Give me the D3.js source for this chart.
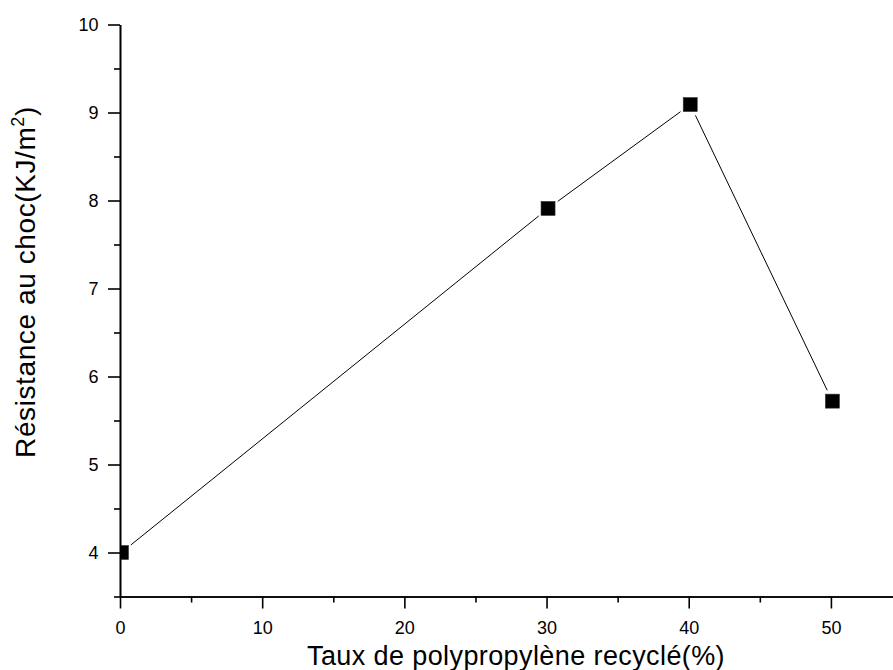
<!DOCTYPE html>
<html>
<head>
<meta charset="utf-8">
<script src="https://cdn.jsdelivr.net/npm/d3@7"></script>
<style>
  html, body { margin: 0; padding: 0; background: #fff; }
  svg { display: block; font-family: "Liberation Sans", Arial, sans-serif; }
  .axis path, .axis line { stroke: #000; stroke-width: 1.6; }
  .axis text { fill: #000; font-size: 18px; font-family: "Liberation Sans", Arial, sans-serif; }
</style>
</head>
<body>
<svg id="chart" width="893" height="670"></svg>
<script>
// Impact resistance vs. recycled polypropylene content
const recycledPct = [0, 30, 40, 50];
const impactStrength = [4.0, 7.91, 9.09, 5.72];

const xMajorTicks = [0, 10, 20, 30, 40, 50];
const xMinorTicks = [5, 15, 25, 35, 45, 55];
const yMajorTicks = [4, 5, 6, 7, 8, 9, 10];
const yMinorTicks = [3.5, 4.5, 5.5, 6.5, 7.5, 8.5, 9.5];

const xTitle = "Taux de polypropylène recyclé(%)";
const yTitle = "Résistance au choc(KJ/m";

const svg = d3.select("#chart");
const W = 893, H = 670;

const x = d3.scaleLinear().domain([0, 55]).range([120, 902]);
const y = d3.scaleLinear().domain([3.5, 10]).range([596.5, 24.5]);

// clip data to the plot frame
svg.append("defs").append("clipPath").attr("id", "plotClip")
  .append("rect")
  .attr("x", x(0) + 1).attr("y", y(10))
  .attr("width", W - x(0)).attr("height", y(3.5) - y(10));

// x axis
const xAxisY = y(3.5);
svg.append("g").attr("class", "axis")
  .attr("transform", `translate(0,${xAxisY})`)
  .call(d3.axisBottom(x).tickValues(xMinorTicks).tickSize(6).tickFormat("").tickSizeOuter(0));
svg.append("g").attr("class", "axis")
  .attr("transform", `translate(0,${xAxisY})`)
  .call(d3.axisBottom(x).tickValues(xMajorTicks).tickSize(12).tickPadding(12.5)
    .tickFormat(d3.format("d")).tickSizeOuter(0));

// y axis
const yAxisX = x(0);
svg.append("g").attr("class", "axis")
  .attr("transform", `translate(${yAxisX},0)`)
  .call(d3.axisLeft(y).tickValues(yMinorTicks).tickSize(6).tickFormat("").tickSizeOuter(0));
svg.append("g").attr("class", "axis")
  .attr("transform", `translate(${yAxisX},0)`)
  .call(d3.axisLeft(y).tickValues(yMajorTicks).tickSize(12).tickPadding(9.5)
    .tickFormat(d3.format("d")).tickSizeOuter(0));

// data line, with gaps around each marker
const pts = recycledPct.map((v, i) => [x(v) + 1.5, y(impactStrength[i])]);
const gap = 12;
const plot = svg.append("g").attr("clip-path", "url(#plotClip)");
for (let i = 0; i < pts.length - 1; i++) {
  const [x1, y1] = pts[i], [x2, y2] = pts[i + 1];
  const len = Math.hypot(x2 - x1, y2 - y1);
  const ux = (x2 - x1) / len, uy = (y2 - y1) / len;
  plot.append("line")
    .attr("x1", x1 + ux * gap).attr("y1", y1 + uy * gap)
    .attr("x2", x2 - ux * gap).attr("y2", y2 - uy * gap)
    .attr("stroke", "#000").attr("stroke-width", 1);
}

// square markers
const ms = 14;
plot.selectAll("rect.marker").data(pts).join("rect")
  .attr("class", "marker")
  .attr("x", d => d[0] - ms / 2).attr("y", d => d[1] - ms / 2)
  .attr("width", ms).attr("height", ms)
  .attr("fill", "#000").attr("stroke", "#333").attr("stroke-width", 0.6);

// axis titles
svg.append("text")
  .attr("x", 516).attr("y", 665)
  .attr("text-anchor", "middle")
  .attr("font-size", 27)
  .attr("letter-spacing", 0.4)
  .attr("fill", "#000")
  .text(xTitle);

const yt = svg.append("text")
  .attr("transform", "translate(35,282) rotate(-90)")
  .attr("text-anchor", "middle")
  .attr("font-size", 28)
  .attr("letter-spacing", 0.6)
  .attr("fill", "#000");
yt.append("tspan").text(yTitle);
yt.append("tspan").attr("font-size", 18).attr("dy", -11).text("2");
yt.append("tspan").attr("dy", 11).text(")");
</script>
</body>
</html>
